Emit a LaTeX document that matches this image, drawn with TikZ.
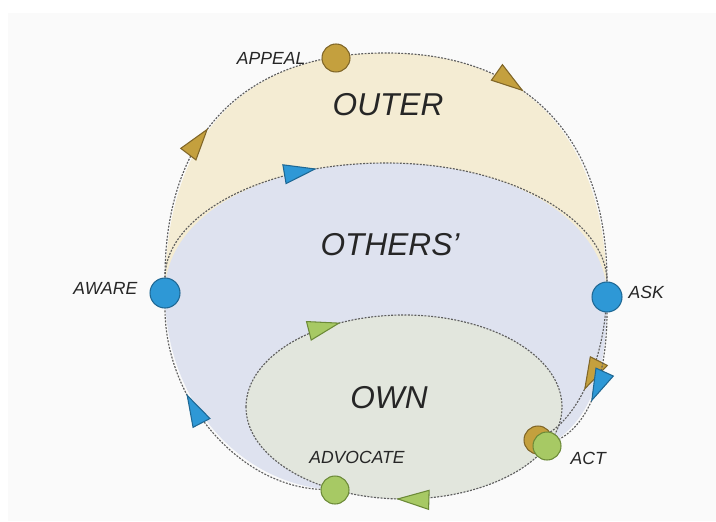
\documentclass[tikz,border=0pt]{standalone}
\usepackage{fontspec}
\setmainfont{Liberation Sans}
\usetikzlibrary{arrows.meta,decorations.markings,backgrounds}

\definecolor{outerfill}{HTML}{F4ECD3}
\definecolor{othersfill}{HTML}{DEE2EF}
\definecolor{ownfill}{HTML}{E2E6DD}
\definecolor{goldfill}{HTML}{C4A03E}
\definecolor{goldedge}{HTML}{806628}
\definecolor{bluefill}{HTML}{2E98D6}
\definecolor{blueedge}{HTML}{1F6894}
\definecolor{greenfill}{HTML}{A7C964}
\definecolor{greenedge}{HTML}{6C8A38}
\definecolor{linegray}{HTML}{5E5E5E}
\definecolor{textgray}{HTML}{262626}

\begin{document}
\begin{tikzpicture}[x=0.02cm, y=0.02cm,
    cycleline/.style={draw=linegray, line width=0.65pt, dash pattern=on 1.1pt off 0.8pt},
    stage/.style={circle, draw=#1edge, fill=#1fill, line width=0.6pt, minimum size=0.56cm, inner sep=0pt},
    flowtip/.style 2 args={postaction={decorate, decoration={markings,
        mark=at position #2 with {\arrow{Triangle[length=19pt, width=11.5pt, color=#1edge, fill=#1fill, line width=0.6pt]}}}}},
    stagelabel/.style={font=\itshape\fontsize{10}{12}\selectfont, text=textgray},
    ringname/.style={font=\itshape\fontsize{18}{22}\selectfont, text=textgray}]
    \useasboundingbox (0,0) rectangle (716,521);

    % stages
    \node[stage=gold, label={[stagelabel, label distance=0.2cm]left:APPEAL}] (appeal) at (336,463) {};
    \node[stage=blue, minimum size=0.6cm, label={[stagelabel, label distance=0.12cm, yshift=0.1cm]left:AWARE}] (aware) at (165,228) {};
    \node[stage=blue, minimum size=0.6cm, label={[stagelabel, yshift=0.1cm]right:ASK}] (ask) at (607,224) {};
    \node[stage=gold] (actouter) at (538,81) {};
    \node[stage=green, label={[stagelabel, label distance=0.06cm, yshift=-0.24cm]right:ACT}] (act) at (547,75) {};
    \node[stage=green, label={[stagelabel, label distance=0.12cm, xshift=0.44cm]above:ADVOCATE}] (advocate) at (335,31) {};
    \coordinate (owncentre) at (404,114);

    \node[ringname] (outername) at (388,416) {OUTER};
    \node[ringname] (othersname) at (390,276) {OTHERS'};
    \node[ringname] (ownname) at (389,123) {OWN};

    \begin{scope}[on background layer]
        \fill[gray!4] (8,0) rectangle (716,508);
        \fill[outerfill] (aware.center) .. controls (165,384) and (242,468) .. (386,468)
            .. controls (530,468) and (607,380) .. (ask.center) -- cycle;
        \fill[othersfill] (aware.center) .. controls (165,303) and (258,358) .. (386,358)
            .. controls (514,358) and (607,299) .. (ask.center)
            .. controls (607,150) and (592,100) .. (act.center)
            arc[start angle=-25, end angle=-116, x radius=158, y radius=92]
            .. controls (240,35) and (165,120) .. (aware.center);
        \fill[ownfill] (owncentre) ellipse[x radius=158, y radius=92];

        % outer
        \draw[cycleline, flowtip={gold}{0.22}, flowtip={gold}{0.7}] (aware) .. controls (165,384) and (242,468) .. (386,468)
            .. controls (530,468) and (607,380) .. (ask);
        \draw[cycleline, flowtip={gold}{0.6}] (ask) .. controls (600,150) and (575,105) .. (actouter);
        % others'
        \draw[cycleline, flowtip={blue}{0.37}] (aware) .. controls (165,303) and (258,358) .. (386,358)
            .. controls (514,358) and (607,299) .. (ask);
        \draw[cycleline, flowtip={blue}{0.65}] (ask) .. controls (607,150) and (592,100) .. (act);
        \draw[cycleline, flowtip={blue}{0.66}] (advocate) .. controls (240,35) and (165,120) .. (aware);
        % own
        \draw[cycleline, flowtip={green}{0.17}, flowtip={green}{0.76}] (owncentre) ++(180:158 and 92)
            arc[start angle=180, end angle=-180, x radius=158, y radius=92];
    \end{scope}
\end{tikzpicture}
\end{document}
